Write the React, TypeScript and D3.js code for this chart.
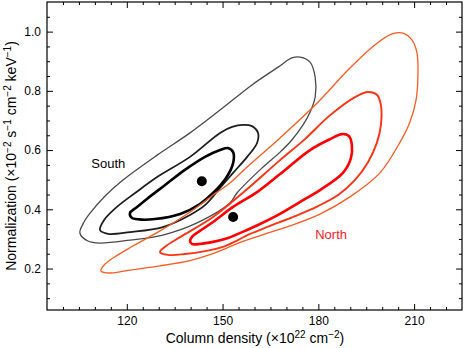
import React, { useEffect, useRef } from 'react';
import * as d3 from 'd3';

const W = 464;
const H = 348;
const margin = { top: 2, right: 2, bottom: 38, left: 47 };

const xDomain: [number, number] = [95, 225];
const yDomain: [number, number] = [0.06, 1.1];
const xTicks = [120, 150, 180, 210];
const yTicks = [0.2, 0.4, 0.6, 0.8, 1.0];

// confidence contours, [column density, normalization]
const southOuter: [number, number][] = [
  [105.3, 0.320], [106.6, 0.357], [108.5, 0.387], [113.2, 0.445], [118.8, 0.499],
  [129.5, 0.583], [139.8, 0.658], [149.2, 0.735], [159.2, 0.820], [167.4, 0.880],
  [171.7, 0.911], [174.3, 0.914], [177.4, 0.897], [179.0, 0.847], [179.0, 0.779],
  [177.4, 0.728], [175.2, 0.685], [171.7, 0.634], [168.0, 0.593], [162.3, 0.539],
  [154.5, 0.455], [152.3, 0.421], [142.0, 0.354], [131.3, 0.313], [121.0, 0.296],
  [111.6, 0.286], [107.8, 0.293],
];
const southMid: [number, number][] = [
  [111.6, 0.330], [112.9, 0.364], [116.9, 0.408], [122.6, 0.455], [129.5, 0.509],
  [139.8, 0.577], [149.2, 0.658], [153.0, 0.678], [156.4, 0.685], [159.2, 0.681],
  [161.1, 0.658], [160.8, 0.624], [157.7, 0.577], [153.3, 0.523], [149.2, 0.472],
  [144.5, 0.414], [139.8, 0.381], [131.3, 0.340], [121.0, 0.323], [114.1, 0.317],
];
const southInner: [number, number][] = [
  [121.0, 0.388], [123.0, 0.406], [126.3, 0.435], [132.0, 0.482], [138.2, 0.533],
  [144.5, 0.577], [149.2, 0.600], [151.7, 0.607], [153.3, 0.593], [153.3, 0.556],
  [151.1, 0.506], [147.0, 0.455], [142.9, 0.418], [136.7, 0.384], [128.8, 0.367],
  [123.8, 0.366], [121.5, 0.372],
];
const northOuter: [number, number][] = [
  [111.9, 0.192], [112.9, 0.212], [117.2, 0.246], [121.9, 0.276], [130.4, 0.327],
  [138.9, 0.384], [147.0, 0.448], [152.3, 0.489], [157.7, 0.543], [168.0, 0.641],
  [179.0, 0.752], [189.9, 0.877], [197.7, 0.955], [203.1, 0.992], [206.5, 0.995],
  [209.3, 0.972], [210.9, 0.928], [211.2, 0.853], [210.6, 0.769], [208.7, 0.695],
  [205.6, 0.627], [199.3, 0.523], [189.9, 0.442], [180.5, 0.384], [171.1, 0.344],
  [162.3, 0.313], [155.5, 0.288], [151.5, 0.270], [147.0, 0.250], [139.8, 0.227],
  [130.4, 0.209], [121.0, 0.195], [114.7, 0.185],
];
const northMid: [number, number][] = [
  [130.4, 0.256], [132.3, 0.276], [136.7, 0.306], [147.0, 0.374], [157.0, 0.462],
  [168.0, 0.566], [175.8, 0.637], [183.7, 0.718], [191.5, 0.779], [195.6, 0.796],
  [198.4, 0.786], [199.6, 0.752], [199.6, 0.685], [198.4, 0.627], [195.6, 0.560],
  [191.5, 0.499], [186.2, 0.448], [179.9, 0.411], [172.7, 0.377], [164.9, 0.344],
  [158.6, 0.317], [154.8, 0.296], [150.8, 0.276], [144.5, 0.259], [138.2, 0.249],
  [132.9, 0.246],
];
const northInner: [number, number][] = [
  [139.8, 0.293], [140.7, 0.310], [142.9, 0.327], [147.0, 0.357], [153.3, 0.408],
  [160.8, 0.458], [168.0, 0.519], [177.4, 0.600], [183.7, 0.637], [187.4, 0.654],
  [189.6, 0.647], [190.5, 0.617], [190.2, 0.573], [187.7, 0.523], [180.5, 0.465],
  [174.3, 0.425], [167.4, 0.381], [161.1, 0.347], [156.1, 0.323], [151.7, 0.303],
  [147.0, 0.290], [142.9, 0.283], [140.4, 0.283],
];

const bestFit: [number, number][] = [[143.5, 0.495], [153.3, 0.374]];

const contours = [
  { pts: southOuter, color: '#4a4a4a', w: 1.3 },
  { pts: southMid, color: '#1e1e1e', w: 1.8 },
  { pts: southInner, color: '#000000', w: 2.6 },
  { pts: northOuter, color: '#ff5a1e', w: 1.3 },
  { pts: northMid, color: '#ff3214', w: 1.9 },
  { pts: northInner, color: '#ff0000', w: 2.6 },
];

const FONT = 'Liberation Sans, Arial, Helvetica, sans-serif';

export default function App() {
  const ref = useRef<SVGSVGElement>(null);

  useEffect(() => {
    const svg = d3.select(ref.current);
    svg.selectAll('*').remove();

    const width = W - margin.left - margin.right;
    const height = H - margin.top - margin.bottom;

    const g = svg.append('g')
      .attr('transform', 'translate(' + margin.left + ',' + margin.top + ')');

    const x = d3.scaleLinear().domain(xDomain).range([0, width]);
    const y = d3.scaleLinear().domain(yDomain).range([height, 0]);

    const xMinor = d3.range(100, 225, 5).filter(v => xTicks.indexOf(v) < 0);
    const yMinor = d3.range(0.1, 1.1, 0.05)
      .map(v => +v.toFixed(2))
      .filter(v => !yTicks.some(t => Math.abs(t - v) < 1e-6));

    const styleAxis = (sel: any) => {
      sel.select('.domain').remove();
      sel.selectAll('line').attr('stroke', '#000').attr('stroke-width', 1);
      sel.selectAll('text')
        .attr('fill', '#000')
        .style('font-family', FONT)
        .style('font-size', '12px');
    };

    // bottom + top
    g.append('g').attr('transform', 'translate(0,' + height + ')')
      .call(d3.axisBottom(x).tickValues(xTicks).tickSize(-6).tickPadding(6))
      .call(styleAxis);
    g.append('g').attr('transform', 'translate(0,' + height + ')')
      .call(d3.axisBottom(x).tickValues(xMinor).tickSize(-3).tickFormat(() => ''))
      .call(styleAxis);
    g.append('g')
      .call(d3.axisTop(x).tickValues(xTicks).tickSize(-6).tickFormat(() => ''))
      .call(styleAxis);
    g.append('g')
      .call(d3.axisTop(x).tickValues(xMinor).tickSize(-3).tickFormat(() => ''))
      .call(styleAxis);

    // left + right
    g.append('g')
      .call(d3.axisLeft(y).tickValues(yTicks).tickSize(-6).tickPadding(6).tickFormat(d3.format('.1f')))
      .call(styleAxis);
    g.append('g')
      .call(d3.axisLeft(y).tickValues(yMinor).tickSize(-3).tickFormat(() => ''))
      .call(styleAxis);
    g.append('g').attr('transform', 'translate(' + width + ',0)')
      .call(d3.axisRight(y).tickValues(yTicks).tickSize(-6).tickFormat(() => ''))
      .call(styleAxis);
    g.append('g').attr('transform', 'translate(' + width + ',0)')
      .call(d3.axisRight(y).tickValues(yMinor).tickSize(-3).tickFormat(() => ''))
      .call(styleAxis);

    g.append('rect')
      .attr('width', width)
      .attr('height', height)
      .attr('fill', 'none')
      .attr('stroke', '#000')
      .attr('stroke-width', 1.2);

    const line = d3.line<[number, number]>()
      .x(d => x(d[0]))
      .y(d => y(d[1]))
      .curve(d3.curveCatmullRomClosed.alpha(0.5));

    contours.forEach(c => {
      g.append('path')
        .datum(c.pts)
        .attr('d', line)
        .attr('fill', 'none')
        .attr('stroke', c.color)
        .attr('stroke-width', c.w)
        .attr('stroke-linejoin', 'round');
    });

    g.selectAll('.dot')
      .data(bestFit)
      .enter().append('circle')
      .attr('class', 'dot')
      .attr('cx', d => x(d[0]))
      .attr('cy', d => y(d[1]))
      .attr('r', 5)
      .attr('fill', '#000');

    g.append('text')
      .attr('x', x(114.2))
      .attr('y', y(0.54))
      .attr('text-anchor', 'middle')
      .style('font-family', FONT)
      .style('font-size', '13px')
      .attr('fill', '#000')
      .text('South');

    g.append('text')
      .attr('x', x(184))
      .attr('y', y(0.30))
      .attr('text-anchor', 'middle')
      .style('font-family', FONT)
      .style('font-size', '13px')
      .attr('fill', '#ff1a1a')
      .text('North');

    // axis titles
    const xt = svg.append('text')
      .attr('x', 255)
      .attr('y', 343)
      .attr('text-anchor', 'middle')
      .style('font-family', FONT)
      .style('font-size', '14px')
      .attr('fill', '#000');
    xt.append('tspan').text('Column density (\u00d710');
    xt.append('tspan').attr('dy', -5).style('font-size', '10px').text('22');
    xt.append('tspan').attr('dy', 5).text(' cm');
    xt.append('tspan').attr('dy', -5).style('font-size', '10px').text('\u22122');
    xt.append('tspan').attr('dy', 5).text(')');

    const yt = svg.append('text')
      .attr('transform', 'translate(16,156) rotate(-90)')
      .attr('text-anchor', 'middle')
      .style('font-family', FONT)
      .style('font-size', '14px')
      .attr('fill', '#000');
    yt.append('tspan').text('Normalization (\u00d710');
    yt.append('tspan').attr('dy', -5).style('font-size', '10px').text('\u22122');
    yt.append('tspan').attr('dy', 5).text(' s');
    yt.append('tspan').attr('dy', -5).style('font-size', '10px').text('\u22121');
    yt.append('tspan').attr('dy', 5).text(' cm');
    yt.append('tspan').attr('dy', -5).style('font-size', '10px').text('\u22122');
    yt.append('tspan').attr('dy', 5).text(' keV');
    yt.append('tspan').attr('dy', -5).style('font-size', '10px').text('\u22121');
    yt.append('tspan').attr('dy', 5).text(')');
  }, []);

  return (
    <svg
      ref={ref}
      width={W}
      height={H}
      style={{ position: 'absolute', left: 0, top: 0, background: '#fff' }}
    />
  );
}
